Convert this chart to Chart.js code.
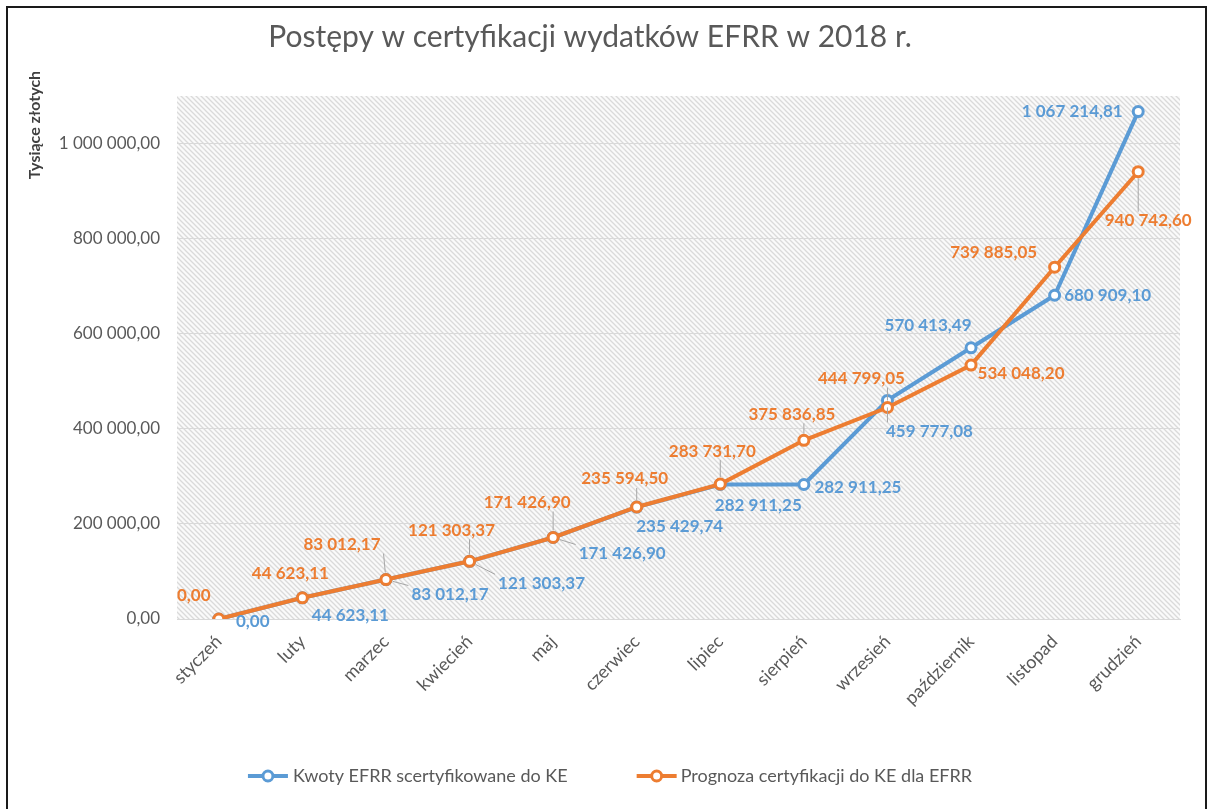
<!DOCTYPE html>
<html lang="pl">
<head>
<meta charset="utf-8">
<title>Postępy w certyfikacji wydatków EFRR w 2018 r.</title>
<script src="https://cdn.jsdelivr.net/npm/chart.js@4/dist/chart.umd.min.js"></script>
<style>
  html, body { margin: 0; padding: 0; background: #fff; }
</style>
</head>
<body>
<canvas id="myChart" width="1211" height="809"></canvas>
<script>
const months = ['styczeń', 'luty', 'marzec', 'kwiecień', 'maj', 'czerwiec', 'lipiec', 'sierpień', 'wrzesień', 'październik', 'listopad', 'grudzień'];
const seriesNames = ['Kwoty EFRR scertyfikowane do KE', 'Prognoza certyfikacji do KE dla EFRR'];
const certified = [0, 44623.11, 83012.17, 121303.37, 171426.90, 235429.74, 282911.25, 282911.25, 459777.08, 570413.49, 680909.10, 1067214.81];
const forecast = [0, 44623.11, 83012.17, 121303.37, 171426.90, 235594.50, 283731.70, 375836.85, 444799.05, 534048.20, 739885.05, 940742.60];
const yTicks = [0, 200000, 400000, 600000, 800000, 1000000];

const blue = '#5b9bd5';
const orange = '#ed7d31';
const textGray = '#595959';
const font = 'Lato';

// label placement relative to each point: [dx, dy, leader line]
const certifiedLabelPos = [[34, 3, false], [48, 18, false], [64, 15, true], [72, 22, true], [69, 16, true], [43, 19, false],
  [38, 21, false], [54, 3, false], [42, 31, true], [-43, -22, false], [53, 0, false], [-66, 0, false]];
const forecastLabelPos = [[-25, -23, false], [-12, -24, false], [-44, -35, true], [-18, -31, true], [-26, -35, true], [-12, -28, true],
  [-8, -33, true], [-12, -26, true], [-26, -29, true], [50, 8, false], [-61, -15, false], [10, 49, true]];

function formatPl(value) {
  const parts = value.toFixed(2).split('.');
  return parts[0].replace(/\B(?=(\d{3})+(?!\d))/g, ' ') + ',' + parts[1];
}

let hatch = null;
function getHatch(ctx) {
  if (hatch) return hatch;
  const c = document.createElement('canvas');
  c.width = 5;
  c.height = 5;
  const g = c.getContext('2d');
  g.fillStyle = '#fafafa';
  g.fillRect(0, 0, 5, 5);
  g.strokeStyle = '#dadada';
  g.lineWidth = 1.3;
  g.beginPath();
  g.moveTo(-1, -1); g.lineTo(6, 6);
  g.moveTo(-1, 4); g.lineTo(1, 6);
  g.moveTo(4, -1); g.lineTo(6, 1);
  g.stroke();
  hatch = ctx.createPattern(c, 'repeat');
  return hatch;
}

function drawMarker(ctx, cx, cy, color) {
  ctx.strokeStyle = color;
  ctx.lineWidth = 4;
  ctx.beginPath();
  ctx.moveTo(cx - 20, cy);
  ctx.lineTo(cx + 20, cy);
  ctx.stroke();
  ctx.fillStyle = '#fff';
  ctx.lineWidth = 3;
  ctx.beginPath();
  ctx.arc(cx, cy, 5, 0, Math.PI * 2);
  ctx.fill();
  ctx.stroke();
}

const backdrop = {
  id: 'backdrop',
  beforeDraw(chart) {
    const { ctx, chartArea: a } = chart;
    ctx.save();
    ctx.fillStyle = '#fff';
    ctx.fillRect(0, 0, chart.width, chart.height);
    ctx.fillStyle = getHatch(ctx);
    ctx.fillRect(a.left, a.top, a.right - a.left, a.bottom - a.top);
    ctx.strokeStyle = '#1a1a1a';
    ctx.lineWidth = 2;
    ctx.strokeRect(7, 7, 1199, 830);
    ctx.restore();
  },
  afterDraw(chart) {
    const ctx = chart.ctx;
    ctx.save();
    // y axis title
    ctx.translate(35, 125);
    ctx.rotate(-Math.PI / 2);
    ctx.font = 'bold 16px ' + font;
    ctx.fillStyle = '#404040';
    ctx.textAlign = 'center';
    ctx.textBaseline = 'middle';
    ctx.fillText('Tysiące złotych', 0, 0);
    ctx.restore();

    // legend
    ctx.save();
    ctx.font = '18px ' + font;
    ctx.textBaseline = 'middle';
    ctx.textAlign = 'left';
    const w1 = ctx.measureText(seriesNames[0]).width;
    const w2 = ctx.measureText(seriesNames[1]).width;
    const total = 40 + 5 + w1 + 69 + 40 + 4 + w2;
    let x = 610 - total / 2;
    const y = 776;
    drawMarker(ctx, x + 20, y, blue);
    ctx.fillStyle = textGray;
    ctx.fillText(seriesNames[0], x + 45, y);
    x += 45 + w1 + 69;
    drawMarker(ctx, x + 20, y, orange);
    ctx.fillStyle = textGray;
    ctx.fillText(seriesNames[1], x + 44, y);
    ctx.restore();
  }
};

const dataLabels = {
  id: 'dataLabels',
  afterDatasetsDraw(chart) {
    const ctx = chart.ctx;
    ctx.save();
    ctx.font = 'bold 17px ' + font;
    ctx.textAlign = 'center';
    ctx.textBaseline = 'middle';
    chart.data.datasets.forEach((ds, di) => {
      const meta = chart.getDatasetMeta(di);
      meta.data.forEach((pt, i) => {
        const [dx, dy, leader] = ds.labelPos[i];
        const text = formatPl(ds.data[i]);
        const lx = pt.x + dx;
        const ly = pt.y + dy;
        if (leader) {
          const hw = ctx.measureText(text).width / 2 + 3;
          const hh = 9;
          const ex = Math.max(lx - hw, Math.min(pt.x, lx + hw));
          const ey = Math.max(ly - hh, Math.min(pt.y, ly + hh));
          const ang = Math.atan2(ey - pt.y, ex - pt.x);
          if (Math.hypot(ex - pt.x, ey - pt.y) > 9) {
            ctx.strokeStyle = '#a6a6a6';
            ctx.lineWidth = 1;
            ctx.beginPath();
            ctx.moveTo(pt.x + Math.cos(ang) * 7, pt.y + Math.sin(ang) * 7);
            ctx.lineTo(ex, ey);
            ctx.stroke();
          }
        }
        ctx.fillStyle = ds.borderColor;
        ctx.fillText(text, lx, ly);
      });
    });
    ctx.restore();
  }
};

const context = document.getElementById('myChart').getContext('2d');

const chart = new Chart(context, {
  type: 'line',
  data: {
    labels: months,
    datasets: [
      {
        label: seriesNames[1],
        data: forecast,
        labelPos: forecastLabelPos,
        borderColor: orange,
        backgroundColor: orange,
        borderWidth: 4,
        pointRadius: 5,
        pointBorderWidth: 3,
        pointBackgroundColor: '#fff',
        tension: 0,
        order: 0
      },
      {
        label: seriesNames[0],
        data: certified,
        labelPos: certifiedLabelPos,
        borderColor: blue,
        backgroundColor: blue,
        borderWidth: 4,
        pointRadius: 5,
        pointBorderWidth: 3,
        pointBackgroundColor: '#fff',
        tension: 0,
        order: 1
      }
    ]
  },
  options: {
    responsive: false,
    animation: false,
    layout: { padding: { left: 0, right: 31, top: 0, bottom: 70 } },
    plugins: {
      legend: { display: false },
      tooltip: { enabled: false },
      title: {
        display: true,
        text: 'Postępy w certyfikacji wydatków EFRR w 2018 r.',
        color: textGray,
        font: { family: font, size: 30, weight: 'normal' },
        padding: { top: 19, bottom: 41 }
      }
    },
    scales: {
      x: {
        offset: true,
        grid: { display: false, drawTicks: false },
        border: { display: true, color: '#d9d9d9' },
        ticks: {
          color: textGray,
          font: { family: font, size: 18 },
          minRotation: 45,
          maxRotation: 45,
          padding: 12
        },
        afterFit(scale) { scale.height = 120; }
      },
      y: {
        min: yTicks[0],
        max: 1100000,
        grid: { color: '#d9d9d9', drawTicks: false },
        border: { display: false },
        afterBuildTicks(scale) { scale.ticks = yTicks.map(v => ({ value: v })); },
        ticks: {
          color: textGray,
          font: { family: font, size: 17 },
          padding: 17,
          callback: (v) => formatPl(v)
        },
        afterFit(scale) { scale.width = 177; }
      }
    }
  },
  plugins: [backdrop, dataLabels]
});
</script>
</body>
</html>
